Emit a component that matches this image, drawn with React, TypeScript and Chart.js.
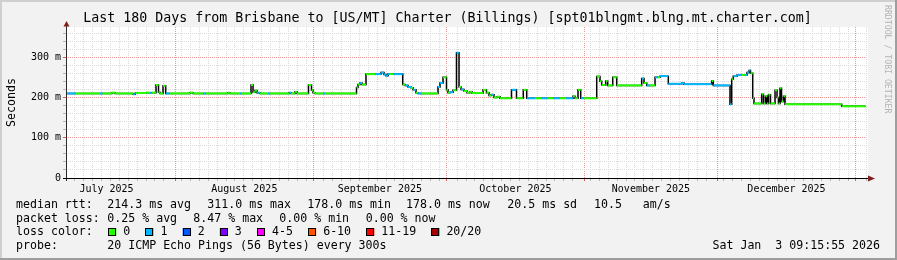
import React, { useEffect, useRef } from 'react';
import { Chart, registerables } from 'chart.js';

Chart.register(...registerables);

const FONT = "'DejaVu Sans Mono', monospace";

const titleText =
  'Last 180 Days from Brisbane to [US/MT] Charter (Billings) [spt01blngmt.blng.mt.charter.com]';
const yAxisTitle = 'Seconds';
const watermarkText = 'RRDTOOL / TOBI OETIKER';

// x values are days since the graph start (Mon Jul 7 2025 09:15:55), span 180 days
const rangeDays = 180;
const minorGridStepDays = 2;
const monthStartDays = [24.614, 55.614, 85.614, 116.614, 146.614, 177.614];
const monthLabelDays = [9.114, 40.114, 70.614, 101.114, 131.614, 162.114];
const monthLabels = ['July 2025', 'August 2025', 'September 2025', 'October 2025', 'November 2025', 'December 2025'];

// y axis (milliseconds)
const yMaxMs = 375;
const yMinorStepMs = 20;
const yMajorStepMs = 100;
const yTickLabels: Record<number, string> = { 0: '0', 100: '100 m', 200: '200 m', 300: '300 m' };

// median RTT, as steps: start day, median (ms), loss class (index into lossColors)
const stepStartDays = [
  0, 2.25, 7.65, 8.2, 10.35, 11.03, 15.08, 15.6, 16.65, 18.0,
  18.9, 19.3, 20.25, 20.81, 21.15, 21.83, 22.43, 23.3, 27.9, 28.58,
  30.83, 31.4, 36.45, 36.9, 39.15, 39.6, 41.63, 42.08, 42.53, 42.98,
  43.65, 45.45, 45.9, 50.18, 50.63, 51.53, 51.98, 54.56, 55.24, 55.58,
  56.03, 57.83, 58.28, 65.36, 65.7, 66.15, 66.6, 67.5, 69.53, 70.88,
  71.55, 72.0, 72.45, 72.9, 73.58, 75.76, 76.28, 76.95, 77.63, 78.08,
  78.75, 79.2, 80.1, 83.7, 84.15, 84.83, 85.61, 85.95, 86.4, 87.08,
  87.86, 88.43, 88.88, 89.55, 90.23, 90.9, 91.35, 93.83, 94.61, 95.18,
  95.63, 96.3, 96.98, 97.65, 100.24, 101.36, 102.89, 103.66, 105.53, 106.88,
  108.45, 109.58, 111.15, 112.5, 114.08, 114.53, 115.2, 115.81, 116.55, 119.41,
  120.15, 120.53, 121.43, 121.88, 123.01, 123.91, 129.53, 130.05, 130.66, 131.4,
  132.53, 133.2, 133.65, 135.52, 138.6, 139.05, 145.28, 145.64, 149.4, 149.78,
  150.14, 150.98, 152.1, 152.78, 153.23, 153.68, 154.01, 154.51, 154.8, 156.53,
  156.94, 157.39, 157.73, 158.06, 158.51, 159.53, 159.98, 160.31, 160.65, 160.99,
  161.44, 161.78, 174.53,
];
const stepMedianMs = [
  210, 210, 210, 210, 212, 210, 208, 211, 211, 212,
  212, 212, 231, 213, 210, 229, 210, 210, 212, 210,
  210, 210, 212, 210, 210, 210, 231, 213, 217, 212,
  210, 210, 210, 212, 210, 214, 210, 231, 218, 212,
  210, 210, 210, 225, 232, 236, 232, 258, 258, 262,
  257, 254, 258, 258, 258, 232, 230, 226, 224, 219,
  212, 210, 210, 226, 236, 250, 219, 212, 213, 218,
  311, 226, 220, 216, 212, 214, 211, 219, 212, 205,
  207, 200, 202, 198, 219, 198, 219, 198, 198, 198,
  198, 198, 198, 198, 203, 198, 219, 198, 198, 252,
  240, 231, 241, 230, 250, 230, 247, 236, 230, 230,
  250, 250, 253, 234, 236, 233, 241, 230, 183, 245,
  253, 256, 256, 256, 262, 267, 260, 198, 185, 208,
  185, 203, 185, 207, 185, 218, 200, 185, 223, 190,
  203, 183, 178,
];
const stepLossClass = [
  1, 0, 1, 0, 0, 0, 1, 0, 0, 0,
  1, 0, 0, 0, 0, 0, 1, 0, 0, 0,
  1, 0, 0, 0, 1, 0, 0, 0, 0, 1,
  0, 1, 0, 1, 0, 0, 0, 0, 0, 0,
  0, 1, 0, 0, 0, 1, 0, 0, 1, 1,
  1, 1, 1, 0, 1, 0, 1, 1, 0, 1,
  0, 1, 0, 1, 1, 0, 0, 0, 1, 0,
  1, 0, 1, 0, 0, 0, 0, 0, 0, 0,
  1, 0, 0, 0, 1, 0, 0, 1, 0, 1,
  0, 1, 0, 1, 0, 0, 0, 1, 0, 0,
  0, 0, 0, 0, 0, 0, 1, 0, 1, 0,
  1, 0, 1, 1, 1, 1, 0, 1, 1, 0,
  1, 1, 0, 1, 1, 1, 0, 0, 0, 0,
  0, 0, 0, 0, 0, 0, 0, 0, 0, 0,
  0, 0, 0,
];
const lastSampleDay = 179.9;

const lossColors = ['#26ff00', '#00b8ff', '#0059ff', '#7e00ff', '#ff00ff', '#ff5500', '#ff0000', '#a10000'];
const lossLabels = ['0', '1', '2', '3', '4-5', '6-10', '11-19', '20/20'];

const rttStats = ['214.3 ms avg', '311.0 ms max', '178.0 ms min', '178.0 ms now', '20.5 ms sd', '10.5   am/s'];
const lossStats = ['0.25 % avg', '8.47 % max', '0.00 % min', '0.00 % now'];
const probeText = '20 ICMP Echo Pings (56 Bytes) every 300s';
const stampText = 'Sat Jan  3 09:15:55 2026';

const MINOR_GRID = '#dadada';
const MAJOR_GRID = '#ec9696';
const ARROW = '#801f1f';

const rrdPlugin = {
  id: 'rrdDecor',
  beforeDraw(chart: any) {
    const { ctx, chartArea: a, width, height } = chart;
    ctx.save();
    ctx.fillStyle = '#f2f2f2';
    ctx.fillRect(0, 0, width, height);
    ctx.fillStyle = '#cfcfcf';
    ctx.fillRect(0, 0, width, 2);
    ctx.fillRect(0, 0, 2, height);
    ctx.fillStyle = '#9e9e9e';
    ctx.fillRect(0, height - 2, width, 2);
    ctx.fillRect(width - 2, 0, 2, height);
    ctx.fillStyle = '#ffffff';
    ctx.fillRect(a.left, a.top, a.right - a.left + 2, a.bottom - a.top);
    ctx.restore();
  },
  afterDraw(chart: any) {
    const { ctx, chartArea: a } = chart;
    ctx.save();
    // axes
    ctx.lineWidth = 1;
    ctx.strokeStyle = '#2a2a2a';
    ctx.beginPath();
    ctx.moveTo(a.left + 0.5, a.bottom + 3);
    ctx.lineTo(a.left + 0.5, a.top - 1);
    ctx.stroke();
    ctx.strokeStyle = '#000';
    ctx.beginPath();
    ctx.moveTo(a.left - 3, a.bottom + 0.5);
    ctx.lineTo(a.right + 3, a.bottom + 0.5);
    ctx.stroke();
    // arrows
    ctx.fillStyle = ARROW;
    ctx.beginPath();
    ctx.moveTo(a.right + 2, a.bottom - 2.5);
    ctx.lineTo(a.right + 9, a.bottom + 0.5);
    ctx.lineTo(a.right + 2, a.bottom + 3.5);
    ctx.closePath();
    ctx.fill();
    ctx.beginPath();
    ctx.moveTo(a.left - 2.5, a.top - 0.5);
    ctx.lineTo(a.left + 0.5, a.top - 6);
    ctx.lineTo(a.left + 3.5, a.top - 0.5);
    ctx.closePath();
    ctx.fill();

    // legend block
    ctx.font = `11.6px ${FONT}`;
    ctx.fillStyle = '#000';
    ctx.textBaseline = 'alphabetic';
    ctx.textAlign = 'left';
    const rowY = [208, 221.6, 235, 248.6];
    ctx.fillText('median rtt:', 16, rowY[0]);
    const rttX = [107.3, 207.3, 307.3, 406, 507.3, 594];
    rttStats.forEach((t, i) => ctx.fillText(t, rttX[i], rowY[0]));
    ctx.fillText('packet loss:', 16, rowY[1]);
    const lossX = [107.3, 193.3, 279.3, 365.7];
    lossStats.forEach((t, i) => ctx.fillText(t, lossX[i], rowY[1]));
    ctx.fillText('loss color:', 16, rowY[2]);
    let x = 108.3;
    lossLabels.forEach((lab, i) => {
      ctx.fillStyle = lossColors[i];
      ctx.fillRect(x, 228, 8, 8);
      ctx.strokeStyle = '#000';
      ctx.lineWidth = 1;
      ctx.strokeRect(Math.round(x) + 0.5, 228.5, 7, 7);
      ctx.fillStyle = '#000';
      ctx.fillText(lab, x + 15, rowY[2]);
      x += 15 + ctx.measureText(lab).width + 15.2;
    });
    ctx.fillText('probe:', 16, rowY[3]);
    ctx.fillText(probeText, 107.3, rowY[3]);
    ctx.textAlign = 'right';
    ctx.fillText(stampText, 880, rowY[3]);

    // watermark
    ctx.translate(887.3, 5);
    ctx.rotate(Math.PI / 2);
    ctx.font = `8.2px ${FONT}`;
    ctx.fillStyle = '#b4b4b4';
    ctx.textAlign = 'left';
    ctx.textBaseline = 'middle';
    ctx.fillText(watermarkText, 0, 0);
    ctx.restore();
  },
};

export default function App() {
  const ref = useRef<HTMLCanvasElement>(null);

  useEffect(() => {
    const canvas = ref.current;
    if (!canvas) return;

    const smoke = stepStartDays.map((d, i) => ({ x: d, y: stepMedianMs[i] }));
    smoke.push({ x: lastSampleDay, y: stepMedianMs[stepMedianMs.length - 1] });

    const colored: { x: number; y: number | null }[] = [];
    stepStartDays.forEach((d, i) => {
      const end = i + 1 < stepStartDays.length ? stepStartDays[i + 1] : lastSampleDay;
      colored.push({ x: d, y: stepMedianMs[i] }, { x: end, y: stepMedianMs[i] }, { x: end, y: null });
    });

    const isMonthStart = (v: number) => monthStartDays.includes(v);
    const isLabelTick = (v: number) => monthLabelDays.includes(v);
    const isYMajor = (v: number) => v > 0 && v % yMajorStepMs === 0;

    const chart = new Chart(canvas, {
      type: 'line',
      data: {
        datasets: [
          {
            label: 'median rtt',
            data: colored as any,
            borderWidth: 2,
            borderColor: lossColors[0],
            borderCapStyle: 'butt',
            pointRadius: 0,
            spanGaps: false,
            order: 0,
            segment: {
              borderColor: (c: any) => lossColors[stepLossClass[Math.floor(c.p0DataIndex / 3)]],
            },
          },
          {
            label: 'smoke',
            data: smoke as any,
            stepped: true,
            borderWidth: 1.5,
            borderColor: '#000',
            pointRadius: 0,
            order: 1,
          },
        ],
      },
      options: {
        responsive: false,
        animation: false,
        devicePixelRatio: 1,
        events: [],
        layout: { padding: { left: 0, right: 2, top: 0, bottom: 0 } },
        plugins: {
          legend: { display: false },
          tooltip: { enabled: false },
          title: {
            display: true,
            text: titleText,
            color: '#000',
            font: { family: FONT, size: 13.3, weight: 'normal', lineHeight: 1.2 },
            padding: { top: 10.6, bottom: 0.44 },
          },
        },
        scales: {
          x: {
            type: 'linear',
            min: 0,
            max: rangeDays,
            afterBuildTicks: (scale: any) => {
              const vals: number[] = [];
              for (let d = 0; d <= rangeDays; d += minorGridStepDays) {
                if (monthStartDays.some((m) => Math.abs(m - d) < 1)) continue;
                vals.push(d);
              }
              vals.push(...monthStartDays, ...monthLabelDays);
              vals.sort((p, q) => p - q);
              scale.ticks = vals.map((v) => ({ value: v }));
            },
            afterFit: (scale: any) => {
              scale.height = 82;
            },
            grid: {
              drawOnChartArea: true,
              drawTicks: true,
              tickLength: 3,
              color: (c: any) => (isMonthStart(c.tick?.value) ? MAJOR_GRID : MINOR_GRID),
              tickColor: (c: any) => (isMonthStart(c.tick?.value) ? '#e06060' : '#b8b8b8'),
              lineWidth: (c: any) => (isLabelTick(c.tick?.value) ? 0 : 1),
              tickWidth: (c: any) => (isLabelTick(c.tick?.value) ? 0 : 1),
            },
            border: { display: false, dash: [1, 1] },
            ticks: {
              autoSkip: false,
              maxRotation: 0,
              minRotation: 0,
              padding: 2,
              color: '#000',
              font: { family: FONT, size: 10 },
              callback: (v: any) => {
                const idx = monthLabelDays.indexOf(Number(v));
                return idx >= 0 ? monthLabels[idx] : '';
              },
            },
          },
          y: {
            type: 'linear',
            min: 0,
            max: yMaxMs,
            afterBuildTicks: (scale: any) => {
              const vals: number[] = [];
              for (let v = 0; v < yMaxMs; v += yMinorStepMs) vals.push(v);
              scale.ticks = vals.map((v) => ({ value: v }));
            },
            afterFit: (scale: any) => {
              scale.width = 66;
            },
            grid: {
              drawOnChartArea: true,
              drawTicks: true,
              tickLength: 3,
              color: (c: any) => (c.tick && isYMajor(c.tick.value) ? MAJOR_GRID : MINOR_GRID),
              tickColor: (c: any) => (c.tick && isYMajor(c.tick.value) ? '#e06060' : '#b8b8b8'),
            },
            border: { display: false, dash: [1, 1] },
            title: {
              display: true,
              text: yAxisTitle,
              color: '#000',
              font: { family: FONT, size: 11.6, weight: 'normal', lineHeight: 1.2 },
              padding: { top: 4.7, bottom: 0 },
            },
            ticks: {
              autoSkip: false,
              padding: 2,
              color: '#000',
              font: { family: FONT, size: 10 },
              callback: (v: any) => yTickLabels[Number(v)] ?? '',
            },
          },
          yRight: {
            type: 'linear',
            position: 'right',
            display: true,
            grid: { display: false, drawTicks: false },
            border: { display: false },
            ticks: { display: false },
            afterFit: (scale: any) => {
              scale.width = 29;
            },
          },
        },
      } as any,
      plugins: [rrdPlugin],
    });

    return () => chart.destroy();
  }, []);

  return (
    <div style={{ position: 'absolute', left: 0, top: 0, width: 897, height: 260 }}>
      <canvas ref={ref} width={897} height={260} style={{ display: 'block', width: 897, height: 260 }} />
    </div>
  );
}
